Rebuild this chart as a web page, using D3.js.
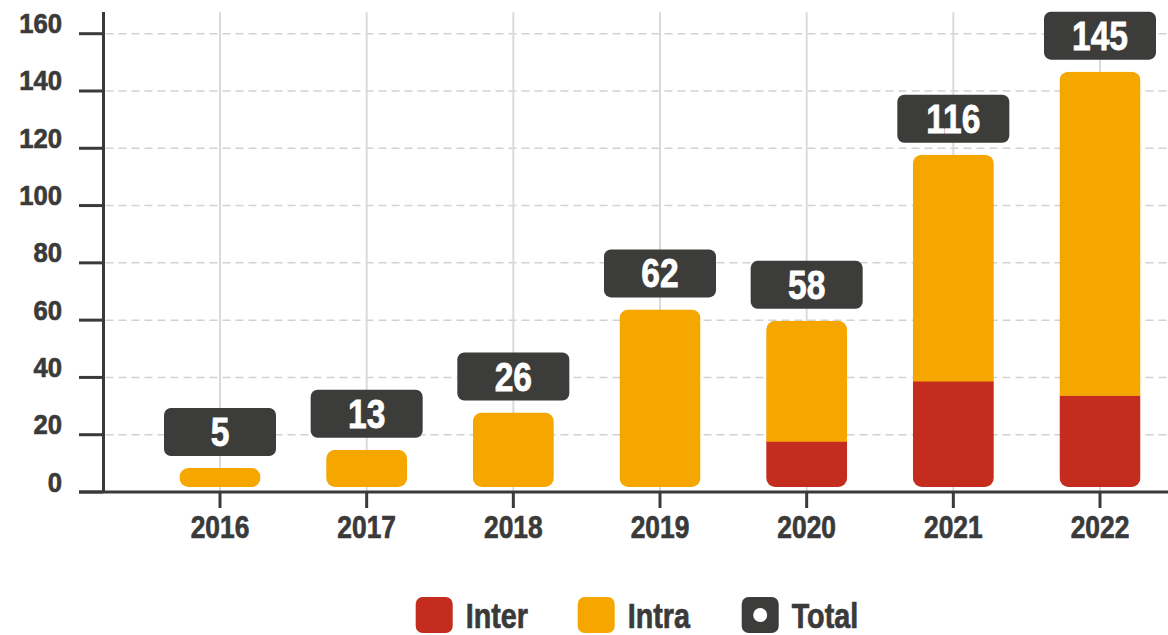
<!DOCTYPE html>
<html>
<head>
<meta charset="utf-8">
<script src="https://cdn.jsdelivr.net/npm/d3@7"></script>
<style>
  html, body { margin: 0; padding: 0; background: #ffffff; }
  svg { display: block; }
  text { font-family: "Liberation Sans", Arial, sans-serif; font-weight: bold; }
</style>
</head>
<body>
<svg id="chart" width="1168" height="635"></svg>
<script>
// Yearly counts, split by type
const years = ["2016", "2017", "2018", "2019", "2020", "2021", "2022"];
const inter = [0, 0, 0, 0, 16, 37, 32];
const intra = [5, 13, 26, 62, 42, 79, 113];
const totals = [5, 13, 26, 62, 58, 116, 145];
const yTicks = [0, 20, 40, 60, 80, 100, 120, 140, 160];
const legendLabels = ["Inter", "Intra", "Total"];

const colors = { inter: "#c42c1d", intra: "#f5a700", total: "#3c3c3b", ink: "#3a3a3a" };

const svg = d3.select("#chart");
const W = 1168;

const x = d3.scalePoint().domain(years).range([220, 1100]);
const y = d3.scaleLinear().domain([0, 160]).range([492, 33.7]);

const axisX = 103.5;
const barW = 81;
const barLift = 5;      // bars float slightly above the axis line
const barR = 9;
const boxW = 112, boxH = 48, boxGap = 12;

// Horizontal dashed gridlines
svg.append("g").selectAll("line")
  .data(yTicks.filter(t => t > 0))
  .join("line")
  .attr("x1", axisX + 2).attr("x2", W)
  .attr("y1", d => y(d)).attr("y2", d => y(d))
  .attr("stroke", "#d2d2d2").attr("stroke-width", 1.5)
  .attr("stroke-dasharray", "8,5");

// Vertical gridlines through each year
svg.append("g").selectAll("line")
  .data(years)
  .join("line")
  .attr("x1", d => x(d)).attr("x2", d => x(d))
  .attr("y1", 12).attr("y2", y(0))
  .attr("stroke", "#dadada").attr("stroke-width", 2);

// Stacked bars, clipped to a rounded outline
const rows = years.map((yr, i) => ({ year: yr, inter: inter[i], intra: intra[i], total: totals[i] }));
const stack = d3.stack().keys(["inter", "intra"])(rows);

const barTop = d => {
  const base = y(0) - barLift;
  const top = y(d.total) - barLift;
  return Math.min(top, base - 2 * barR - 1);
};

const defs = svg.append("defs");
rows.forEach((d, i) => {
  const base = y(0) - barLift;
  const top = barTop(d);
  defs.append("clipPath").attr("id", "bar-clip-" + i)
    .append("rect")
    .attr("x", x(d.year) - barW / 2).attr("width", barW)
    .attr("y", top).attr("height", base - top)
    .attr("rx", Math.min(barR, (base - top) / 2));
});

const barsG = svg.append("g");
rows.forEach((d, i) => {
  const g = barsG.append("g").attr("clip-path", "url(#bar-clip-" + i + ")");
  const base = y(0) - barLift;
  stack.forEach(layer => {
    const seg = layer[i];
    if (seg[1] - seg[0] <= 0) return;
    const isTopLayer = seg[1] === d.total;
    const y0 = seg[0] === 0 ? base : y(seg[0]) - barLift + 0.5;
    let y1 = y(seg[1]) - barLift;
    if (isTopLayer) y1 = Math.min(y1, barTop(d));
    g.append("rect")
      .attr("x", x(d.year) - barW / 2).attr("width", barW)
      .attr("y", y1).attr("height", y0 - y1)
      .attr("fill", layer.key === "inter" ? colors.inter : colors.intra);
  });
});

// Total value boxes above each bar
const boxes = svg.append("g").selectAll("g")
  .data(rows)
  .join("g")
  .attr("transform", d => `translate(${x(d.year)},${barTop(d) - boxGap - boxH})`);
boxes.append("rect")
  .attr("x", -boxW / 2).attr("width", boxW)
  .attr("y", 0).attr("height", boxH)
  .attr("rx", 7)
  .attr("fill", colors.total);
boxes.append("g")
  .attr("transform", `translate(0,${boxH / 2 + 14}) scale(0.84,1)`)
  .append("text")
  .attr("text-anchor", "middle")
  .attr("font-size", 40)
  .attr("fill", "#ffffff")
  .attr("stroke", "#ffffff").attr("stroke-width", 0.8)
  .text(d => d.total);

// Y axis
const yAxisG = svg.append("g");
yAxisG.append("line")
  .attr("x1", axisX).attr("x2", axisX)
  .attr("y1", 12).attr("y2", y(0))
  .attr("stroke", colors.ink).attr("stroke-width", 3);
const yt = yAxisG.selectAll("g.tick").data(yTicks).join("g").attr("class", "tick");
yt.append("line")
  .attr("x1", 79).attr("x2", axisX)
  .attr("y1", d => y(d)).attr("y2", d => y(d))
  .attr("stroke", colors.ink).attr("stroke-width", 3);
yt.append("g")
  .attr("transform", d => `translate(62,${y(d) - 0.5}) scale(0.9,1)`)
  .append("text")
  .attr("text-anchor", "end")
  .attr("font-size", 28.5)
  .attr("fill", colors.ink)
  .attr("stroke", colors.ink).attr("stroke-width", 0.7)
  .text(d => d);

// X axis
const xAxisG = svg.append("g");
xAxisG.append("line")
  .attr("x1", 79).attr("x2", W)
  .attr("y1", y(0)).attr("y2", y(0))
  .attr("stroke", colors.ink).attr("stroke-width", 3);
const xt = xAxisG.selectAll("g.tick").data(years).join("g").attr("class", "tick");
xt.append("line")
  .attr("x1", d => x(d)).attr("x2", d => x(d))
  .attr("y1", y(0)).attr("y2", y(0) + 16)
  .attr("stroke", colors.ink).attr("stroke-width", 3);
xt.append("g")
  .attr("transform", d => `translate(${x(d)},537.5) scale(0.85,1)`)
  .append("text")
  .attr("text-anchor", "middle")
  .attr("font-size", 31)
  .attr("fill", colors.ink)
  .attr("stroke", colors.ink).attr("stroke-width", 0.7)
  .text(d => d);

// Legend
const legendX = [415.7, 577.7, 741.7];
const legendFill = [colors.inter, colors.intra, colors.total];
const legend = svg.append("g").selectAll("g")
  .data(legendLabels)
  .join("g")
  .attr("transform", (d, i) => `translate(${legendX[i]},597)`);
legend.append("rect")
  .attr("width", 37).attr("height", 36).attr("rx", 7)
  .attr("fill", (d, i) => legendFill[i]);
legend.filter(d => d === "Total").append("circle")
  .attr("cx", 18.5).attr("cy", 18).attr("r", 7)
  .attr("fill", "#ffffff");
legend.append("g")
  .attr("transform", "translate(50,31) scale(0.82,1)")
  .append("text")
  .attr("font-size", 35)
  .attr("fill", colors.ink)
  .attr("stroke", colors.ink).attr("stroke-width", 0.7)
  .text(d => d);
</script>
</body>
</html>
